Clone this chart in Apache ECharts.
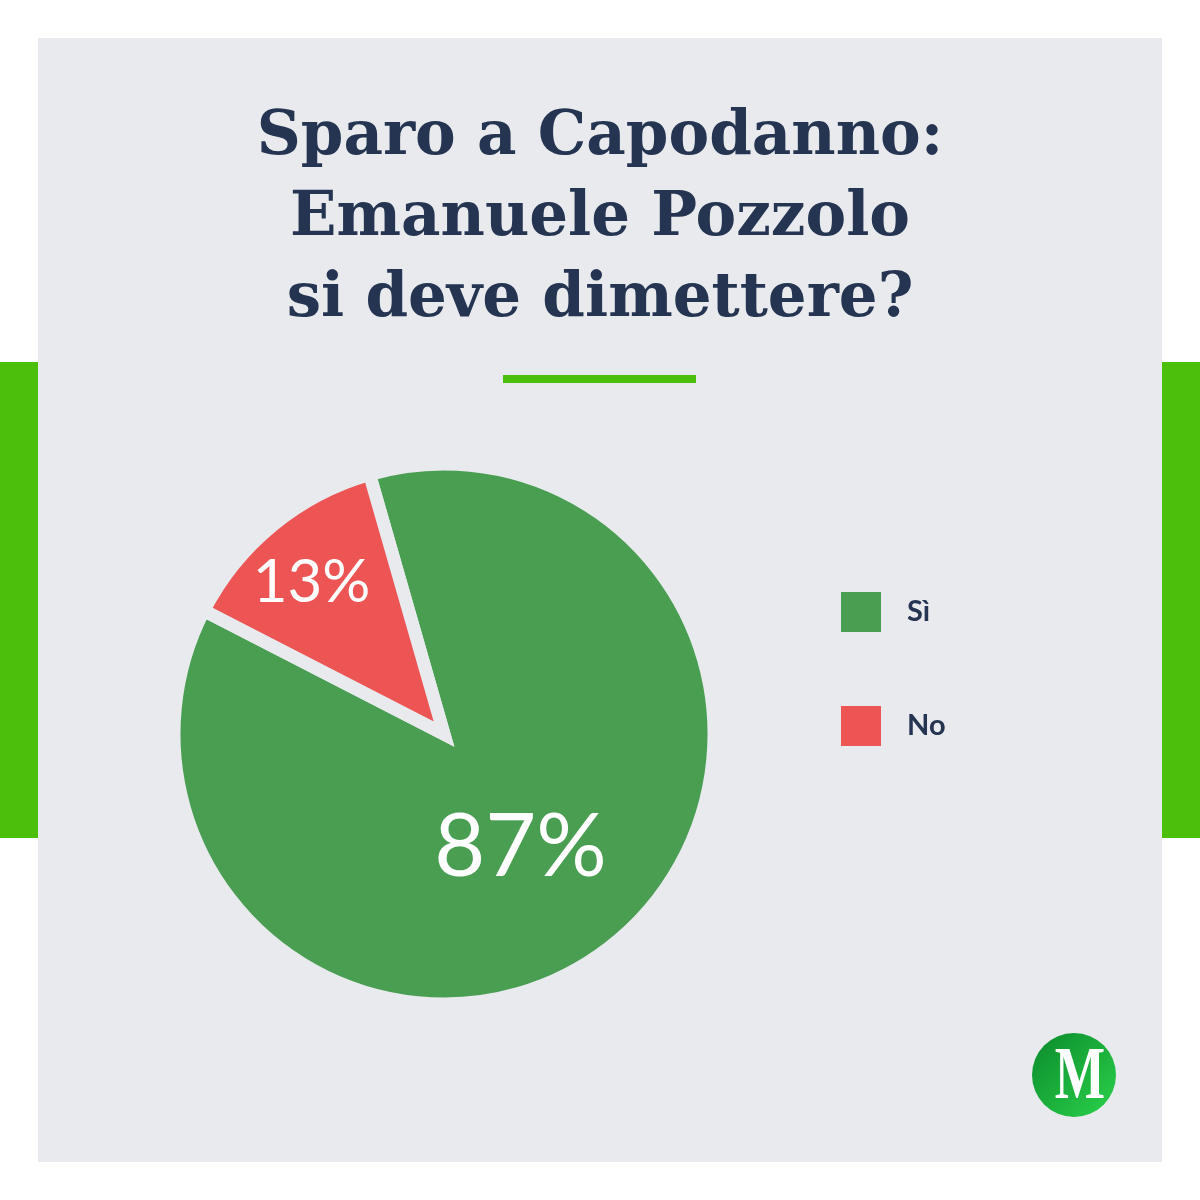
<!DOCTYPE html>
<html><head><meta charset="utf-8">
<script src="https://cdn.jsdelivr.net/npm/echarts@6/dist/echarts.min.js"></script>
<style>html,body{margin:0;padding:0;background:#fff}#c{width:1200px;height:1200px}</style>
</head><body><div id="c"></div>
<script>
const categories = ['Sì', 'No'];
const values = [87, 13];
const titleLines = ['Sparo a Capodanno:', 'Emanuele Pozzolo', 'si deve dimettere?'];
const sliceColors = ['#499e52', '#ed5454'];
const BG = '#e8eaee';
const NAVY = '#253551';
const ACCENT = '#4cbf0c';

const chart = echarts.init(document.getElementById('c'), null, {renderer: 'canvas'});

const pieData = categories.map((n, i) => ({
  name: n, value: values[i],
  itemStyle: {color: sliceColors[i]},
  label: {show: i === 0, offset: [-11, 7]}
}));
const labelData = categories.map((n, i) => ({
  name: n, value: values[i],
  label: {show: i === 1, offset: [-1, 9]}
}));

const option = {
  backgroundColor: '#ffffff',
  animation: false,
  legend: {
    data: categories, orient: 'vertical', left: 841, top: 592,
    itemWidth: 40, itemHeight: 40, itemGap: 74, icon: 'rect', padding: 0,
    selectedMode: false,
    itemStyle: {borderWidth: 0},
    textStyle: {fontFamily: 'Lato', fontWeight: 'bold', fontSize: 29, color: NAVY, padding: [0, 0, 0, 21]}
  },
  graphic: [
    {type: 'rect', shape: {x: 0, y: 362, width: 38, height: 476}, style: {fill: ACCENT}},
    {type: 'rect', shape: {x: 1162, y: 362, width: 38, height: 476}, style: {fill: ACCENT}},
    {type: 'rect', shape: {x: 38, y: 38, width: 1124, height: 1124}, style: {fill: BG}},
    {type: 'rect', shape: {x: 503, y: 375, width: 193, height: 8}, style: {fill: ACCENT}},
    {type: 'text', x: 600, y: 98,
      style: {text: titleLines.join('\n'), fill: NAVY, fontFamily: '"DejaVu Serif", serif', fontWeight: 'bold',
        fontSize: 61, lineHeight: 81, align: 'center', verticalAlign: 'top'}},
    {type: 'circle', shape: {cx: 1074, cy: 1075, r: 42},
      style: {fill: new echarts.graphic.LinearGradient(0, 0, 1, 1, [{offset: 0, color: '#0b8a2b'}, {offset: 1, color: '#2bd24b'}])}},
    {type: 'text', x: 1080, y: 1079, scaleX: 0.72,
      style: {text: 'M', fill: '#ffffff', fontFamily: '"Liberation Serif"', fontWeight: 'bold', fontSize: 74, align: 'center', verticalAlign: 'middle'}}
  ],
  series: [
    {
      type: 'pie', center: [444, 734], radius: 270, startAngle: 106, clockwise: true,
      avoidLabelOverlap: false, data: pieData,
      itemStyle: {borderColor: BG, borderWidth: 13, borderJoin: 'miter', borderMiterLimit: 20},
      label: {position: 'inside', formatter: '{c}%', color: '#ffffff', fontFamily: 'Lato', fontSize: 88, fontWeight: 'normal'},
      labelLine: {show: false},
      emphasis: {disabled: true}
    },
    {
      type: 'pie', center: [444, 734], radius: [138, 270], startAngle: 106, clockwise: true,
      avoidLabelOverlap: false, silent: true, data: labelData,
      itemStyle: {color: 'rgba(0,0,0,0)', borderWidth: 0},
      label: {position: 'inside', formatter: '{c}%', color: '#ffffff', fontFamily: 'Lato', fontSize: 60, fontWeight: 'normal'},
      labelLine: {show: false},
      emphasis: {disabled: true}
    }
  ]
};
chart.setOption(option);
</script>
</body></html>
